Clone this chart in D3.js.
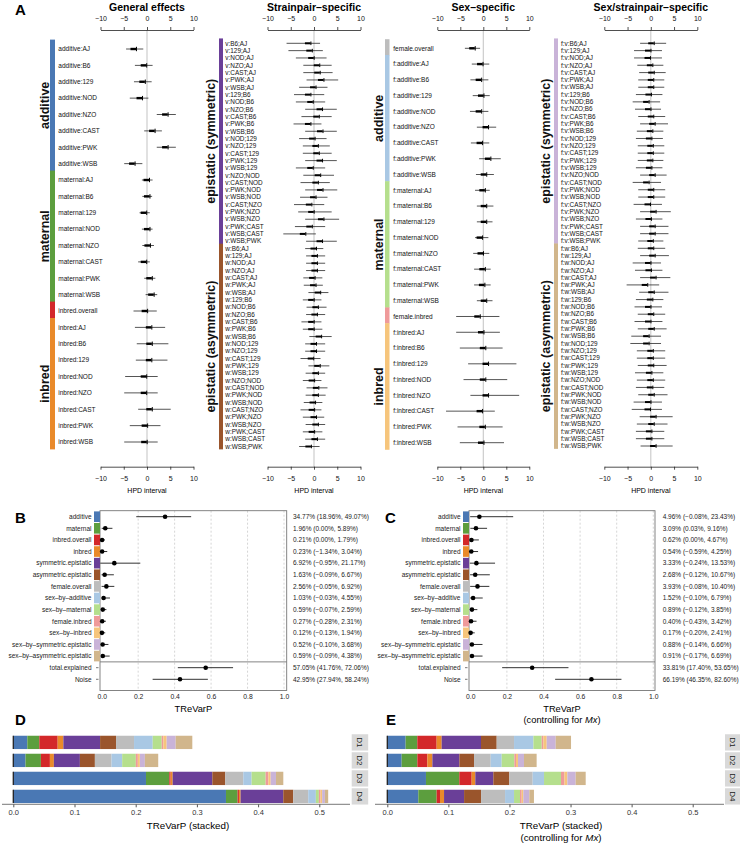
<!DOCTYPE html>
<html><head><meta charset="utf-8">
<script src="https://cdn.jsdelivr.net/npm/d3@7"></script>
<style>
body{margin:0;background:#fff}
svg{display:block;font-family:"Liberation Sans",Arial,Helvetica,sans-serif}
</style>
</head><body>
<svg id="c" width="740" height="845"></svg>
<script>
// ---------------- DATA ----------------
const catNames = ["additive","maternal","inbred.overall","inbred","symmetric.epistatic","asymmetric.epistatic","female.overall","sex-by-additive","sex-by-maternal","female.inbred","sex-by-inbred","sex-by-symmetric.epistatic","sex-by-asymmetric.epistatic"];
const catColors = ["#4a78b4","#5c9e3e","#d3282a","#e98a2a","#6a3f98","#9a552c","#bdbdbd","#a9c8e4","#b5df8d","#ef9a9a","#f6c57c","#c9b3d8","#d1b68c"];

const genLabels = ["additive:AJ","additive:B6","additive:129","additive:NOD","additive:NZO","additive:CAST","additive:PWK","additive:WSB",
 "maternal:AJ","maternal:B6","maternal:129","maternal:NOD","maternal:NZO","maternal:CAST","maternal:PWK","maternal:WSB",
 "inbred.overall","inbred:AJ","inbred:B6","inbred:129","inbred:NOD","inbred:NZO","inbred:CAST","inbred:PWK","inbred:WSB"];
const genMid = [-2.8,-0.6,-0.9,-1.5,4.0,1.2,4.0,-3.1, 0.0,0.1,-0.6,0.1,0.2,-0.6,0.6,1.0, -0.4, 0.5,0.6,0.5,-0.6,-0.6,0.6,-0.4,-0.5];
const genLo  = [-4.5,-2.6,-2.8,-3.7,2.1,-0.6,2.1,-4.9, -1.1,-1.0,-1.6,-1.1,-1.0,-1.9,-0.6,-0.3, -2.9, -2.6,-2.2,-2.4,-4.7,-4.9,-1.9,-3.7,-4.9];
const genHi  = [-0.8,1.2,1.0,0.3,6.2,3.2,6.2,-1.0, 1.2,1.1,0.6,1.2,1.5,0.6,1.8,2.2, 2.1, 3.9,4.6,4.4,2.3,2.3,5.1,2.9,2.3];

const strainPairs = ["B6;AJ","129;AJ","NOD;AJ","NZO;AJ","CAST;AJ","PWK;AJ","WSB;AJ","129;B6","NOD;B6","NZO;B6","CAST;B6","PWK;B6","WSB;B6","NOD;129","NZO;129","CAST;129","PWK;129","WSB;129","NZO;NOD","CAST;NOD","PWK;NOD","WSB;NOD","CAST;NZO","PWK;NZO","WSB;NZO","PWK;CAST","WSB;CAST","WSB;PWK"];

const vMid = [-1.2,-0.9,-0.5,0.7,0.8,1.6,-0.1,-1.2,-0.7,1.3,0.6,-1.2,1.4,-0.3,0.4,0.6,1.3,-0.7,0.9,0.4,1.4,-0.1,-1.0,-0.5,1.6,-0.9,-2.3,1.3];
const vLo  = [-5.9,-5.5,-3.9,-2.3,-2.3,-1.6,-3.2,-4.3,-3.9,-1.9,-2.7,-4.4,-1.9,-3.2,-2.4,-2.4,-1.9,-3.9,-2.3,-2.9,-1.9,-3.0,-4.3,-3.4,-1.9,-4.1,-6.6,-1.7];
const vHi  = [1.3,1.9,2.7,3.8,4.0,5.2,2.9,2.2,2.4,4.9,3.8,1.6,4.9,2.7,3.4,3.8,4.9,2.4,4.3,3.4,5.0,2.9,2.2,3.8,5.4,2.4,0.4,4.9];
const wMid = [0.0,0.2,0.2,0.2,-0.3,-0.1,0.9,-0.5,0.4,0.2,-0.5,-0.5,1.1,0.0,0.0,-0.6,0.8,0.4,-0.4,0.5,0.4,-0.2,-0.4,0.0,0.4,-0.4,0.2,-1.1];
const wLo  = [-1.9,-1.7,-1.7,-1.7,-2.3,-2.2,-1.2,-2.4,-1.6,-1.7,-2.7,-2.4,-1.0,-1.9,-1.9,-2.9,-1.2,-1.8,-2.4,-1.6,-1.8,-2.2,-2.9,-2.4,-1.8,-2.4,-1.9,-3.2];
const wHi  = [2.0,2.4,2.4,2.4,1.8,1.9,3.1,1.6,2.7,2.4,1.6,1.8,3.8,2.4,2.4,1.4,3.3,2.4,1.6,2.9,2.5,1.8,1.6,2.2,2.4,1.8,2.4,1.2];

const sexLabels = ["female.overall","f:additive:AJ","f:additive:B6","f:additive:129","f:additive:NOD","f:additive:NZO","f:additive:CAST","f:additive:PWK","f:additive:WSB",
 "f:maternal:AJ","f:maternal:B6","f:maternal:129","f:maternal:NOD","f:maternal:NZO","f:maternal:CAST","f:maternal:PWK","f:maternal:WSB",
 "female.inbred","f:inbred:AJ","f:inbred:B6","f:inbred:129","f:inbred:NOD","f:inbred:NZO","f:inbred:CAST","f:inbred:PWK","f:inbred:WSB"];
const sexMid = [-2.3, -0.6,-0.9,-0.4,-0.9,0.6,-0.7,1.1,0.2, -0.1,0.2,0.2,-0.7,-0.5,-0.1,-0.2,0.2, -1.2, -0.4,0.0,0.6,0.0,0.6,-0.7,-0.1,-0.4];
const sexLo  = [-4.0, -2.5,-2.8,-2.3,-2.9,-1.4,-2.7,-0.9,-1.6, -1.8,-1.4,-1.4,-1.8,-2.2,-2.0,-2.0,-1.4, -5.9, -5.9,-5.1,-3.3,-4.3,-2.8,-8.1,-5.6,-5.1];
const sexHi  = [-0.7, 1.3,1.1,1.4,1.1,2.8,1.3,3.8,2.3, 1.4,2.2,2.0,1.1,1.3,1.6,1.6,2.0, 3.5, 3.6,4.2,7.2,5.2,7.8,2.5,4.2,4.5];

const fvMid = [0.2,-0.5,-0.6,-0.1,0.2,0.1,0.1,-0.4,-0.9,-0.5,0.1,0.4,-0.1,-0.3,0.0,0.0,-0.1,-0.3,0.4,-0.9,0.1,0.1,-0.6,0.6,-0.4,0.4,0.4,0.0];
const fvLo  = [-2.3,-3.6,-3.6,-2.9,-2.5,-2.7,-2.7,-3.2,-3.9,-3.4,-2.7,-2.3,-3.0,-3.2,-2.8,-2.8,-2.8,-3.2,-2.3,-3.9,-2.7,-2.7,-3.7,-2.3,-3.2,-2.3,-2.3,-2.7];
const fvHi  = [3.3,2.4,2.4,2.7,3.2,2.9,2.9,2.5,2.0,2.2,3.1,3.7,2.7,2.6,2.9,2.9,2.7,2.5,3.4,2.2,3.1,3.1,2.4,4.3,2.5,3.8,3.8,2.7];
const fwMid = [0.1,0.4,-0.5,-0.4,0.6,-1.2,0.2,-0.1,-0.5,0.1,-0.5,0.2,-0.9,-0.9,0.0,0.0,0.1,-0.3,0.0,-0.1,0.2,-0.5,-0.6,0.6,0.2,-0.3,-0.3,0.6];
const fwLo  = [-2.8,-2.3,-3.9,-3.4,-2.3,-5.2,-2.5,-3.2,-3.5,-2.8,-3.5,-2.8,-4.2,-4.4,-3.0,-3.0,-2.8,-3.4,-3.0,-3.2,-2.7,-3.7,-4.1,-2.4,-3.0,-3.2,-3.2,-2.2];
const fwHi  = [3.1,3.9,2.2,2.5,4.2,1.8,3.8,2.7,2.4,3.1,2.5,3.4,2.2,2.2,3.1,3.1,3.4,2.7,3.1,2.9,3.6,2.4,2.4,4.7,3.6,2.9,2.9,4.7];

const hpdTicks = [-10,-5,0,5,10];

const varLabels = catNames.concat(["total.explained","Noise"]);
const bMid = [34.77,1.96,0.21,0.23,6.92,1.63,2.56,1.03,0.59,0.27,0.12,0.52,0.59,57.05,42.95];
const bLo  = [18.96,0.00,0.00,-1.34,-0.95,-0.09,-0.05,-0.03,-0.07,-0.28,-0.13,-0.10,-0.09,41.76,27.94];
const bHi  = [49.07,5.89,1.79,3.04,21.17,6.67,6.92,4.55,2.59,2.31,1.94,3.68,4.38,72.06,58.24];
const cMid = [4.96,3.09,0.62,0.54,3.33,2.68,3.93,1.52,0.89,0.40,0.17,0.88,0.91,33.81,66.19];
const cLo  = [-0.08,0.03,0.00,-0.59,-0.24,-0.12,-0.08,-0.10,-0.12,-0.43,-0.20,-0.14,-0.17,17.40,46.35];
const cHi  = [23.43,9.16,4.67,4.25,13.53,10.67,10.40,6.79,3.85,3.42,2.41,6.66,6.69,53.65,82.60];
const varTicks = [0,0.2,0.4,0.6,0.8,1.0];

const diallels = ["D1","D2","D3","D4"];
const d1 = [0.0229,0.0196,0.0300,0.0093,0.0600,0.0261,0.0294,0.0305,0.0147,0.0027,0.0054,0.0147,0.0272];
const d2 = [0.0200,0.0251,0.0147,0.0065,0.0425,0.0245,0.0272,0.0174,0.0223,0.0033,0.0033,0.0082,0.0218];
const d3v= [0.2168,0.0381,0.0022,0.0033,0.0648,0.0212,0.0294,0.0136,0.0229,0.0044,0.0038,0.0087,0.0120];
const d4 = [0.3475,0.0190,0.0022,0.0027,0.0697,0.0163,0.0245,0.0125,0.0049,0.0027,0.0027,0.0044,0.0054];
const e1 = [0.0300,0.0191,0.0317,0.0082,0.0644,0.0257,0.0284,0.0317,0.0136,0.0027,0.0055,0.0147,0.0251];
const e2 = [0.0235,0.0257,0.0164,0.0082,0.0442,0.0240,0.0273,0.0180,0.0207,0.0027,0.0033,0.0098,0.0207];
const e3 = [0.0633,0.0546,0.0202,0.0060,0.0295,0.0262,0.0382,0.0186,0.0278,0.0055,0.0049,0.0136,0.0164];
const e4 = [0.0508,0.0300,0.0055,0.0066,0.0328,0.0278,0.0393,0.0147,0.0098,0.0027,0.0027,0.0098,0.0076];
const stackTicks = [0,0.1,0.2,0.3,0.4,0.5];

// ---------------- DRAW ----------------
const svg = d3.select("#c");
const FONT = '"Liberation Sans",Arial,Helvetica,sans-serif';
const minusFmt = d => d < 0 ? "\u2212" + (-d) : String(d);

function panelLetter(t, x, y){
  svg.append("text").attr("x",x).attr("y",y).attr("font-size",15).attr("font-weight","bold").text(t);
}

function styleAxis(g, fs){
  g.attr("font-family", FONT).attr("font-size", fs);
  g.selectAll("path,line").attr("stroke","#222").attr("stroke-width",0.8);
  g.selectAll("text").attr("fill","#111");
}

function forest(cfg){
  const g = svg.append("g");
  const n = cfg.labels.length;
  const x = d3.scaleLinear().domain([-10,10]).range([cfg.x0,cfg.x1]);
  const y = d3.scaleLinear().domain([0,n-1]).range([cfg.y0,cfg.y1]);
  const sp = (cfg.y1-cfg.y0)/(n-1);
  g.append("text").attr("x",x(0)).attr("y",10.5).attr("text-anchor","middle")
    .attr("font-weight","bold").attr("font-size",10.5).text(cfg.title);
  g.append("line").attr("x1",x(0)).attr("x2",x(0)).attr("y1",30).attr("y2",466.7)
    .attr("stroke","#c8c8c8").attr("stroke-width",1.1);
  const ta = g.append("g").attr("transform","translate(0,30)")
    .call(d3.axisTop(x).tickValues(hpdTicks).tickSize(3).tickSizeOuter(0).tickPadding(6).tickFormat(minusFmt));
  styleAxis(ta, 7);
  const ba = g.append("g").attr("transform","translate(0,466.7)")
    .call(d3.axisBottom(x).tickValues(hpdTicks).tickSize(3).tickSizeOuter(0).tickPadding(6).tickFormat(minusFmt));
  styleAxis(ba, 7);
  g.append("text").attr("x",x(0)).attr("y",493).attr("text-anchor","middle").attr("font-size",7).text("HPD interval");

  cfg.groups.forEach(gr => {
    const top = y(gr.s) - sp/2 - 1.2, bot = y(gr.e) + sp/2 - 0.8;
    g.append("rect").attr("x",cfg.barX).attr("y",top).attr("width",cfg.barW).attr("height",bot-top)
      .attr("fill",gr.c);
    if (gr.name){
      const cy = (top+bot)/2;
      g.append("text").attr("transform",`translate(${cfg.gX},${cy}) rotate(-90)`)
        .attr("text-anchor","middle").attr("font-size",12.5).attr("font-weight","bold").attr("fill","#111").text(gr.name);
    }
  });
  const rows = g.selectAll("g.row").data(cfg.labels).join("g").attr("class","row")
    .attr("transform",(d,i)=>`translate(0,${y(i)})`);
  rows.append("text").attr("x",cfg.labX).attr("dy","0.35em").attr("font-size",cfg.fs).attr("fill","#111").text(d=>d);
  rows.append("line").attr("x1",(d,i)=>x(cfg.lo[i])).attr("x2",(d,i)=>x(cfg.hi[i]))
    .attr("stroke","#2a2a2a").attr("stroke-width",0.8);
  rows.append("line").attr("x1",(d,i)=>x(cfg.mid[i])-3.5).attr("x2",(d,i)=>x(cfg.mid[i])+2)
    .attr("stroke","#000").attr("stroke-width",cfg.thick);
  rows.append("line").attr("x1",(d,i)=>x(cfg.mid[i])+2.5).attr("x2",(d,i)=>x(cfg.mid[i])+2.5)
    .attr("y1",-cfg.tick).attr("y2",cfg.tick).attr("stroke","#000").attr("stroke-width",1);
}

panelLetter("A",15,15);

forest({title:"General effects", x0:100.5, x1:193.5, y0:49, y1:442, labels:genLabels, mid:genMid, lo:genLo, hi:genHi,
  barX:50, barW:5, labX:58.3, gX:48.5, fs:6.5, thick:2.4, tick:2.2,
  groups:[{name:"additive",c:catColors[0],s:0,e:7},{name:"maternal",c:catColors[1],s:8,e:15},{name:"",c:catColors[2],s:16,e:16},{name:"inbred",c:catColors[3],s:17,e:24}]});

forest({title:"Strainpair\u2013specific", x0:267.5, x1:360.5, y0:43.3, y1:446.5,
  labels:strainPairs.map(p=>"v:"+p).concat(strainPairs.map(p=>"w:"+p)),
  mid:vMid.concat(wMid), lo:vLo.concat(wLo), hi:vHi.concat(wHi),
  barX:219, barW:4, labX:225.3, gX:214.5, fs:6.4, thick:2, tick:1.8,
  groups:[{name:"epistatic (symmetric)",c:catColors[4],s:0,e:27},{name:"epistatic (asymmetric)",c:catColors[5],s:28,e:55}]});

forest({title:"Sex\u2013specific", x0:437.3, x1:529.3, y0:48.3, y1:442.7, labels:sexLabels, mid:sexMid, lo:sexLo, hi:sexHi,
  barX:385, barW:4.5, labX:393.3, gX:383, fs:6.5, thick:2.4, tick:2.2,
  groups:[{name:"",c:catColors[6],s:0,e:0},{name:"additive",c:catColors[7],s:1,e:8},{name:"maternal",c:catColors[8],s:9,e:16},{name:"",c:catColors[9],s:17,e:17},{name:"inbred",c:catColors[10],s:18,e:25}]});

forest({title:"Sex/strainpair\u2013specific", x0:604.3, x1:697.3, y0:43.3, y1:446,
  labels:strainPairs.map(p=>"f:v:"+p).concat(strainPairs.map(p=>"f:w:"+p)),
  mid:fvMid.concat(fwMid), lo:fvLo.concat(fwLo), hi:fvHi.concat(fwHi),
  barX:554, barW:4, labX:561, gX:549.5, fs:6.4, thick:2, tick:1.8,
  groups:[{name:"epistatic (symmetric)",c:catColors[11],s:0,e:27},{name:"epistatic (asymmetric)",c:catColors[12],s:28,e:55}]});

// ---------- B / C ----------
function pctFmt(v){ return (v<0?"\u2212":"") + Math.abs(v).toFixed(2) + "%"; }

function varPanel(cfg){
  const g = svg.append("g");
  const n = varLabels.length;
  const x = d3.scaleLinear().domain([0,1]).range([cfg.zx, cfg.ox]);
  const y = d3.scaleLinear().domain([0,n-1]).range([516.7,679.3]);
  const sp = (679.3-516.7)/(n-1);
  const yTop = 510.7, yBot = 690.5;
  varTicks.filter(t=>t>0).forEach(t=>{
    g.append("line").attr("x1",x(t)).attr("x2",x(t)).attr("y1",yTop).attr("y2",yBot)
      .attr("stroke","#c4c4c4").attr("stroke-width",0.7).attr("stroke-dasharray","2,2");
  });
  g.append("rect").attr("x",cfg.px0).attr("y",yTop).attr("width",cfg.px1-cfg.px0).attr("height",yBot-yTop)
    .attr("fill","none").attr("stroke","#777").attr("stroke-width",0.9);
  const sepY = (y(12)+y(13))/2;
  g.append("line").attr("x1",cfg.px0).attr("x2",cfg.px1).attr("y1",sepY).attr("y2",sepY).attr("stroke","#777").attr("stroke-width",0.9);
  const rows = g.selectAll("g.r").data(varLabels).join("g").attr("transform",(d,i)=>`translate(0,${y(i)})`);
  rows.append("text").attr("x",cfg.px0-8.5).attr("dy","0.35em").attr("text-anchor","end").attr("font-size",6.5).attr("fill","#222")
    .text(d=>d.replace(/-/g,"\u2013"));
  rows.filter((d,i)=>i<13).append("rect").attr("x",cfg.px0-6).attr("y",-sp/2+0.5).attr("width",6).attr("height",sp-1)
    .attr("fill",(d,i)=>catColors[i]);
  rows.filter((d,i)=>i>=13).append("line").attr("x1",cfg.px0-4).attr("x2",cfg.px0-1.5).attr("stroke","#555").attr("stroke-width",0.8);
  rows.append("line").attr("x1",(d,i)=>x(Math.max(cfg.lo[i],-0.8)/100)).attr("x2",(d,i)=>x(cfg.hi[i]/100))
    .attr("stroke","#333").attr("stroke-width",1);
  rows.append("circle").attr("cx",(d,i)=>x(cfg.mid[i]/100)).attr("r",2.3).attr("fill","#000");
  rows.append("text").attr("x",cfg.tx).attr("dy","0.35em").attr("font-size",6.5).attr("fill","#222")
    .text((d,i)=>`${pctFmt(cfg.mid[i])} (${pctFmt(cfg.lo[i])}, ${pctFmt(cfg.hi[i])})`);
  const ax = g.append("g").attr("transform",`translate(0,${yBot})`)
    .call(d3.axisBottom(x).tickValues(varTicks).tickSize(0).tickPadding(4).tickFormat(d3.format(".1f")));
  ax.select(".domain").remove();
  ax.attr("font-family",FONT).attr("font-size",6.8);
  ax.selectAll("text").attr("fill","#222");
  const cx = (cfg.px0+cfg.px1)/2;
  g.append("text").attr("x",cx).attr("y",712).attr("text-anchor","middle").attr("font-size",9.3).text("TReVarP");
  if (cfg.mx){
    const t2 = g.append("text").attr("x",cx).attr("y",722.6).attr("text-anchor","middle").attr("font-size",9.3);
    t2.append("tspan").text("(controlling for ");
    t2.append("tspan").attr("font-style","italic").text("Mx");
    t2.append("tspan").text(")");
  }
}

panelLetter("B",15,523);
varPanel({zx:101.7, ox:284, px0:100, px1:286.7, tx:293, mid:bMid, lo:bLo, hi:bHi, mx:false});
panelLetter("C",385,523);
varPanel({zx:470.3, ox:653.3, px0:469, px1:655, tx:662.7, mid:cMid, lo:cLo, hi:cHi, mx:true});

// ---------- D / E ----------
function stackPanel(cfg){
  const g = svg.append("g");
  const table = diallels.map((dl,i)=>{ const o={dl}; catNames.forEach((c,j)=>o[c]=cfg.rows[i][j]); return o; });
  const series = d3.stack().keys(catNames)(table);
  const x = d3.scaleLinear().domain([0,0.5]).range([cfg.x0,cfg.x5]);
  const y = d3.scaleBand().domain(diallels).range([733.4,805.4]).paddingInner(0.26).paddingOuter(0.13);
  series.forEach((s,j)=>{
    g.selectAll(null).data(s).join("rect")
      .attr("x",d=>x(d[0])).attr("width",d=>Math.max(0,x(d[1])-x(d[0])))
      .attr("y",d=>y(d.data.dl)).attr("height",y.bandwidth()).attr("fill",catColors[j]);
  });
  diallels.forEach(dl=>{
    g.append("line").attr("x1",x(0)).attr("x2",x(0)).attr("y1",y(dl)).attr("y2",y(dl)+y.bandwidth())
      .attr("stroke","#222").attr("stroke-width",1.3);
    g.append("rect").attr("x",cfg.sx).attr("y",y(dl)-1.5).attr("width",16.5).attr("height",y.bandwidth()+3).attr("fill","#d9d9d9");
    g.append("text").attr("transform",`translate(${cfg.sx+8.25},${y(dl)+y.bandwidth()/2}) rotate(90)`)
      .attr("text-anchor","middle").attr("dy","0.35em").attr("font-size",8).attr("fill","#1a1a1a").text(dl);
  });
  const axY = 804.3;
  g.append("line").attr("x1",cfg.ax0).attr("x2",cfg.ax1).attr("y1",axY).attr("y2",axY).attr("stroke","#555").attr("stroke-width",0.8);
  const ax = g.append("g").attr("transform",`translate(0,${axY})`)
    .call(d3.axisBottom(x).tickValues(stackTicks).tickSize(3).tickPadding(2).tickFormat(d3.format(".1f")));
  ax.select(".domain").remove();
  ax.attr("font-family",FONT).attr("font-size",7.5);
  ax.selectAll("line").attr("stroke","#555");
  ax.selectAll("text").attr("fill","#333");
  const cx = cfg.lx;
  g.append("text").attr("x",cx).attr("y",829.3).attr("text-anchor","middle").attr("font-size",9.8).text("TReVarP (stacked)");
  if (cfg.mx){
    const t2 = g.append("text").attr("x",cx).attr("y",840.5).attr("text-anchor","middle").attr("font-size",9.8);
    t2.append("tspan").text("(controlling for ");
    t2.append("tspan").attr("font-style","italic").text("Mx");
    t2.append("tspan").text(")");
  }
}

panelLetter("D",15,725);
stackPanel({rows:[d1,d2,d3v,d4], x0:13.3, x5:319.3, ax0:2, ax1:350, sx:351.7, lx:188, mx:false});
panelLetter("E",386,725);
stackPanel({rows:[e1,e2,e3,e4], x0:387.3, x5:692.7, ax0:375, ax1:724, sx:725, lx:561, mx:true});
</script>
</body></html>
